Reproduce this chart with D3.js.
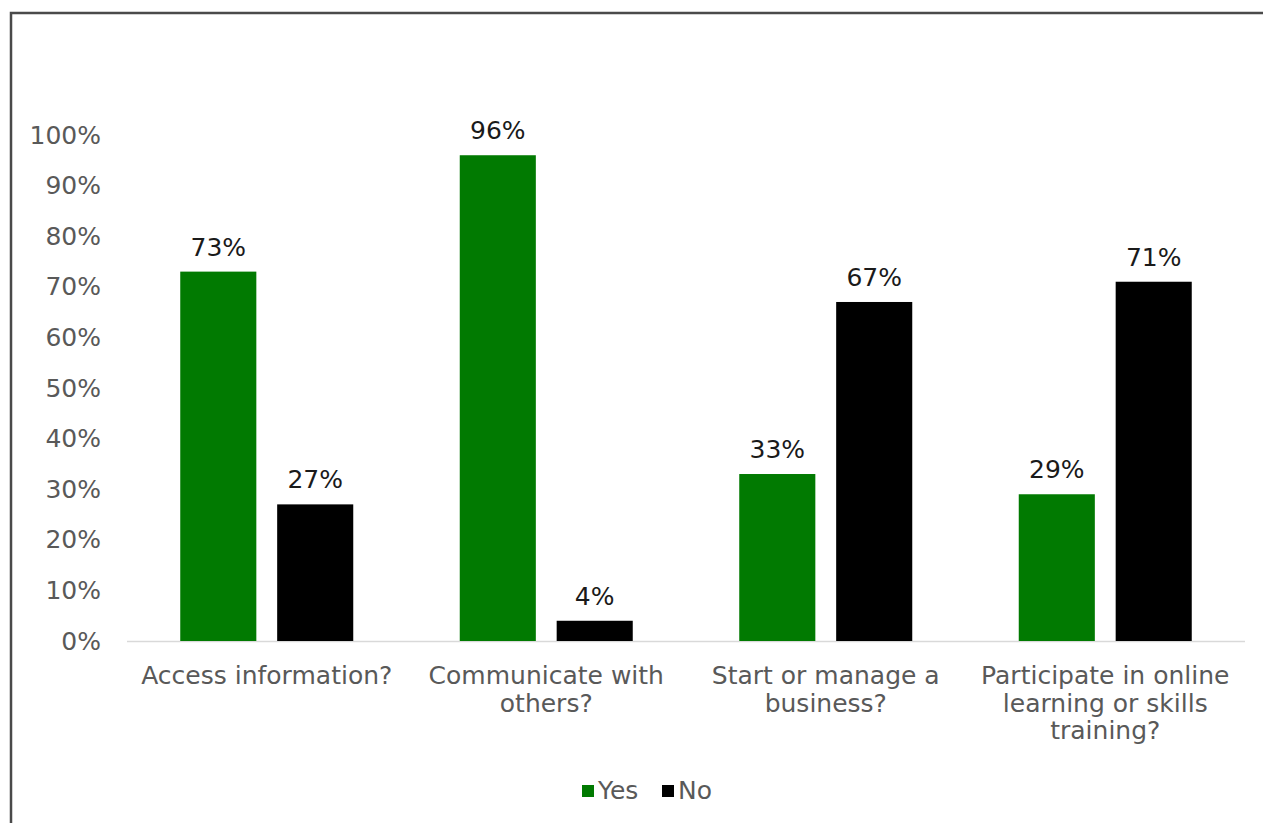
<!DOCTYPE html>
<html>
<head>
<meta charset="utf-8">
<script src="https://cdn.jsdelivr.net/npm/d3@7"></script>
<style>
  html, body { margin: 0; padding: 0; background: #fff; }
  svg { display: block; }
</style>
</head>
<body>
<svg id="chart" width="1263" height="823"></svg>
<script>
// Survey answers: share of respondents per use case
const categories = [
  ["Access information?"],
  ["Communicate with", "others?"],
  ["Start or manage a", "business?"],
  ["Participate in online", "learning or skills", "training?"]
];
const seriesNames = ["Yes", "No"];
const yesValues = [73, 96, 33, 29];
const noValues = [27, 4, 67, 71];
const yTicks = [0, 10, 20, 30, 40, 50, 60, 70, 80, 90, 100];
const colors = ["#017a01", "#000000"];

const svg = d3.select("#chart");
const W = 1263, H = 823;
const font = "DejaVu Sans, Verdana, sans-serif";
const fs = 25;

// outer frame (runs past the right and bottom edges)
svg.append("rect")
  .attr("x", 11).attr("y", 13)
  .attr("width", W + 20).attr("height", H + 20)
  .attr("fill", "#fff")
  .attr("stroke", "#4a4a4a").attr("stroke-width", 2.5);

const plot = { left: 127, right: 1245, top: 135, bottom: 641 };

const keys = categories.map((c, i) => i);
const x0 = d3.scaleBand().domain(keys).range([plot.left, plot.right]).paddingInner(0).paddingOuter(0);
const x1 = d3.scaleBand().domain(seriesNames).range([0, 173]).paddingInner(0.215).paddingOuter(0);
const y = d3.scaleLinear().domain([0, 100]).range([plot.bottom, plot.top]);

// y axis labels
const yAxis = d3.axisLeft(y).tickValues(yTicks).tickFormat(d => d + "%").tickSize(0).tickPadding(0);
const gy = svg.append("g").attr("transform", "translate(101,0)").call(yAxis);
gy.select(".domain").remove();
gy.selectAll("text")
  .attr("font-family", font).attr("font-size", fs)
  .attr("fill", "#595959");

// baseline
svg.append("line")
  .attr("x1", plot.left).attr("x2", plot.right)
  .attr("y1", y(0) + 0.5).attr("y2", y(0) + 0.5)
  .attr("stroke", "#d9d9d9").attr("stroke-width", 1.5);

const rows = keys.map(i => ({ i, vals: [yesValues[i], noValues[i]] }));

const groups = svg.append("g").selectAll("g")
  .data(rows).join("g")
  .attr("transform", d => `translate(${x0(d.i) + (x0.bandwidth() - 173) / 2},0)`);

groups.selectAll("rect")
  .data(d => d.vals.map((v, k) => ({ v, k })))
  .join("rect")
  .attr("x", d => x1(seriesNames[d.k]))
  .attr("width", x1.bandwidth())
  .attr("y", d => y(d.v))
  .attr("height", d => y(0) - y(d.v))
  .attr("fill", d => colors[d.k]);

groups.selectAll("text.val")
  .data(d => d.vals.map((v, k) => ({ v, k })))
  .join("text")
  .attr("class", "val")
  .attr("x", d => x1(seriesNames[d.k]) + x1.bandwidth() / 2)
  .attr("y", d => y(d.v) - 16)
  .attr("text-anchor", "middle")
  .attr("font-family", font).attr("font-size", fs)
  .attr("fill", "#1a1a1a")
  .text(d => d.v + "%");

// category labels
const xl = svg.append("g").selectAll("text")
  .data(keys).join("text")
  .attr("text-anchor", "middle")
  .attr("font-family", font).attr("font-size", fs)
  .attr("fill", "#595959")
  .attr("transform", d => `translate(${x0(d) + x0.bandwidth() / 2},684)`);
xl.selectAll("tspan")
  .data(d => categories[d])
  .join("tspan")
  .attr("x", 0)
  .attr("dy", (d, j) => j === 0 ? 0 : 27.5)
  .text(d => d);

// legend
const legend = svg.append("g").attr("transform", "translate(582,799)");
const items = [{ n: "Yes", x: 0 }, { n: "No", x: 80 }];
items.forEach((it, k) => {
  legend.append("rect")
    .attr("x", it.x).attr("y", -14).attr("width", 12).attr("height", 12)
    .attr("fill", colors[k]);
  legend.append("text")
    .attr("x", it.x + 16).attr("y", 0)
    .attr("font-family", font).attr("font-size", fs)
    .attr("fill", "#595959")
    .text(it.n);
});
</script>
</body>
</html>
